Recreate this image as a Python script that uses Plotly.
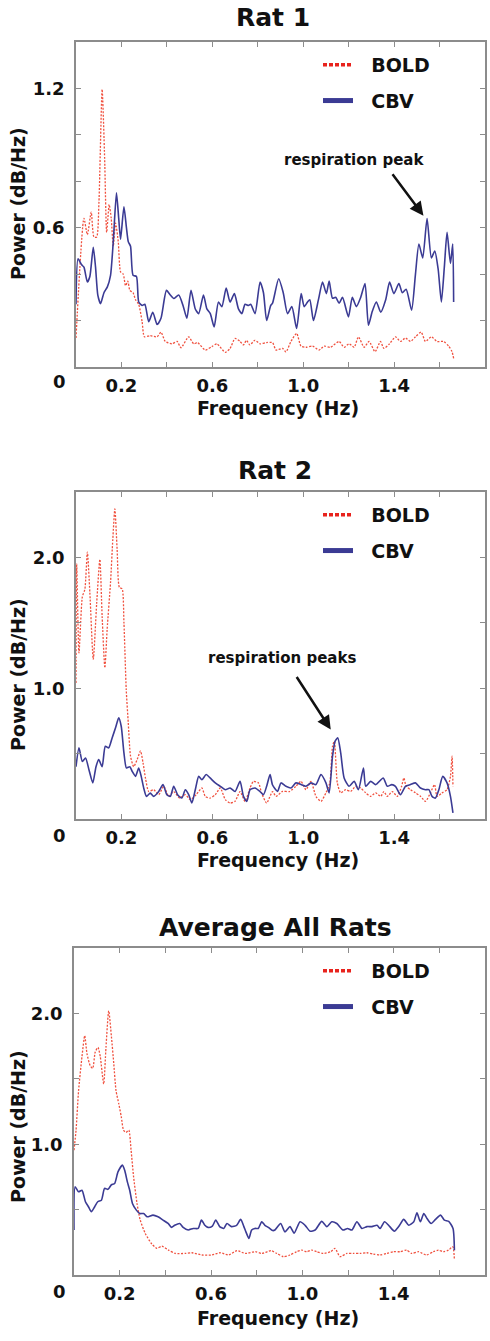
import plotly.graph_objects as go

# ---- data (frequency in Hz, power in dB/Hz) ----
rat1_bold_f = [0, .035, .05, .067, .079, .091, .101, .115, .126, .135, .146, .155, .164, .174, .186, .196, .208, .218,
               .228, .237, .251, .262, .276, .291, .301, .326, .357, .374, .393, .423, .445, .462, .496, .518, .535,
               .569, .598, .62, .657, .678, .70, .722, .737, .75, .765, .787, .81, .838, .865, .88, .909, .924, .946,
               .971, .99, 1.012, 1.041, 1.07, 1.092, 1.12, 1.158, 1.18, 1.202, 1.224, 1.243, 1.268, 1.29, 1.316, 1.34,
               1.355, 1.38, 1.406, 1.428, 1.45, 1.472, 1.494, 1.519, 1.538, 1.564, 1.589, 1.618, 1.64, 1.655, 1.662]
rat1_bold_p = [.125, .64, .57, .667, .56, .56, .71, 1.196, .90, .58, .70, .64, .52, .62, .54, .41, .40, .35, .37, .33,
               .32, .29, .27, .195, .13, .135, .13, .15, .11, .10, .11, .083, .13, .10, .105, .073, .088, .10, .063,
               .08, .123, .11, .095, .115, .095, .115, .10, .105, .105, .073, .08, .065, .11, .145, .09, .085, .09,
               .073, .09, .085, .11, .085, .10, .085, .13, .085, .11, .066, .11, .08, .10, .13, .11, .125, .11, .13,
               .15, .11, .13, .11, .11, .09, .066, .037]

rat1_cbv_f = [0, .009, .025, .035, .05, .061, .076, .086, .096, .108, .123, .138, .152, .164, .178, .188, .196, .211,
              .222, .23, .24, .251, .266, .276, .291, .303, .32, .338, .357, .374, .398, .415, .43, .452, .471, .488,
              .506, .525, .54, .561, .576, .591, .608, .627, .642, .661, .678, .697, .715, .73, .744, .759, .769, .788,
              .81, .825, .839, .857, .865, .892, .912, .931, .95, .971, .991, 1.004, 1.019, 1.029, 1.045, 1.067, 1.085,
              1.102, 1.114, 1.129, 1.143, 1.158, 1.173, 1.199, 1.216, 1.234, 1.253, 1.272, 1.287, 1.304, 1.322, 1.341,
              1.363, 1.38, 1.399, 1.421, 1.436, 1.453, 1.477, 1.494, 1.509, 1.526, 1.545, 1.564, 1.579, 1.594, 1.608,
              1.621, 1.633, 1.648, 1.658, 1.662]
rat1_cbv_p = [.27, .466, .44, .43, .366, .39, .516, .43, .31, .273, .32, .345, .395, .54, .75, .64, .55, .69, .60, .54,
              .52, .395, .39, .28, .265, .27, .195, .236, .183, .21, .33, .31, .295, .31, .265, .21, .33, .25, .23, .31,
              .25, .23, .173, .28, .26, .34, .28, .316, .25, .23, .27, .265, .27, .23, .366, .32, .20, .265, .275, .38,
              .32, .23, .26, .166, .316, .26, .28, .29, .20, .29, .366, .316, .37, .296, .30, .275, .30, .216, .30, .26,
              .30, .36, .18, .24, .28, .236, .29, .366, .316, .36, .32, .335, .245, .40, .53, .47, .64, .47, .50, .42,
              .28, .43, .58, .446, .53, .28]

rat2_bold_f = [0, .003, .013, .028, .039, .05, .061, .076, .091, .105, .115, .127, .137, .152, .162, .171, .181, .191,
               .203, .211, .221, .23, .24, .254, .269, .284, .295, .306, .32, .342, .364, .386, .408, .43, .456, .481,
               .503, .529, .554, .569, .59, .613, .635, .657, .678, .70, .722, .744, .766, .781, .803, .817, .839, .865,
               .88, .909, .939, .968, .99, 1.012, 1.034, 1.056, 1.078, 1.1, 1.117, 1.129, 1.137, 1.15, 1.165, 1.187,
               1.209, 1.231, 1.253, 1.275, 1.297, 1.319, 1.341, 1.355, 1.37, 1.392, 1.414, 1.433, 1.443, 1.453, 1.472,
               1.494, 1.516, 1.538, 1.56, 1.578, 1.589, 1.611, 1.633, 1.648, 1.655, 1.659]
rat2_bold_p = [1.04, 1.95, 1.27, 1.70, 1.756, 2.04, 1.73, 1.22, 1.65, 1.985, 1.55, 1.156, 1.45, 1.81, 2.14, 2.37, 2.06,
               1.77, 1.76, 1.50, .99, .735, .48, .40, .454, .52, .43, .31, .21, .224, .186, .25, .173, .21, .16, .186,
               .148, .186, .237, .173, .16, .186, .237, .148, .122, .135, .21, .135, .237, .288, .275, .198, .122, .21,
               .173, .211, .21, .25, .288, .224, .288, .173, .135, .20, .276, .556, .594, .276, .20, .224, .211, .25,
               .237, .20, .173, .20, .173, .21, .173, .21, .173, .25, .314, .25, .224, .20, .173, .135, .20, .263, .173,
               .20, .224, .326, .48, .25]

rat2_cbv_f = [0, .013, .028, .042, .057, .074, .088, .1, .115, .129, .144, .159, .174, .188, .199, .211, .222, .237,
              .247, .262, .276, .287, .298, .31, .327, .342, .364, .383, .4, .415, .43, .447, .466, .481, .496, .51,
              .525, .54, .554, .573, .59, .613, .635, .657, .678, .70, .722, .737, .752, .766, .788, .81, .825, .839,
              .854, .865, .887, .902, .924, .946, .968, .99, 1.012, 1.034, 1.056, 1.078, 1.1, 1.114, 1.129, 1.14,
              1.152, 1.165, 1.18, 1.202, 1.224, 1.243, 1.265, 1.275, 1.297, 1.319, 1.352, 1.37, 1.39, 1.406, 1.428,
              1.45, 1.472, 1.494, 1.516, 1.538, 1.553, 1.567, 1.582, 1.597, 1.614, 1.633, 1.648, 1.659]
rat2_cbv_p = [.40, .544, .44, .467, .377, .276, .40, .454, .40, .556, .544, .62, .697, .773, .709, .505, .39, .40, .365,
              .326, .39, .326, .237, .173, .198, .173, .21, .263, .186, .173, .25, .186, .16, .224, .186, .122, .224,
              .326, .30, .34, .314, .276, .25, .224, .237, .21, .288, .173, .135, .224, .237, .21, .186, .25, .34, .26,
              .211, .276, .25, .237, .276, .263, .25, .276, .263, .34, .276, .20, .48, .594, .62, .505, .314, .25,
              .288, .224, .39, .25, .288, .263, .314, .25, .263, .25, .186, .25, .263, .276, .237, .224, .224, .173,
              .16, .224, .326, .276, .173, .046]

avg_bold_f = [0, .009, .02, .035, .047, .057, .071, .082, .093, .105, .115, .13, .14, .152, .164, .174, .184, .196,
              .207, .217, .228, .24, .25, .261, .276, .29, .312, .341, .363, .385, .414, .444, .487, .516, .56, .604,
              .641, .677, .714, .75, .794, .823, .864, .888, .917, .946, .975, .997, 1.019, 1.041, 1.063, 1.092, 1.124,
              1.143, 1.165, 1.195, 1.224, 1.253, 1.282, 1.311, 1.34, 1.369, 1.399, 1.428, 1.457, 1.479, 1.508, 1.544,
              1.574, 1.596, 1.618, 1.64, 1.659, 1.666]
avg_bold_p = [.954, 1.107, 1.41, 1.67, 1.83, 1.69, 1.60, 1.58, 1.705, 1.74, 1.67, 1.46, 1.74, 2.02, 1.82, 1.62, 1.41,
              1.31, 1.21, 1.107, 1.09, 1.107, .954, .75, .547, .42, .318, .237, .204, .22, .19, .165, .165, .17, .153,
              .153, .17, .153, .186, .165, .178, .165, .186, .165, .14, .153, .178, .19, .178, .19, .178, .165, .178,
              .204, .14, .165, .165, .165, .17, .16, .153, .165, .178, .178, .19, .165, .178, .153, .178, .19, .178,
              .19, .216, .115]

avg_cbv_f = [0, .005, .02, .035, .05, .064, .076, .09, .104, .12, .134, .149, .164, .178, .193, .212, .222, .234, .244,
             .256, .273, .288, .305, .32, .346, .368, .39, .412, .427, .441, .463, .478, .5, .522, .544, .558, .573,
             .587, .606, .621, .638, .656, .67, .69, .712, .73, .744, .753, .766, .778, .792, .807, .822, .836, .851,
             .87, .88, .905, .924, .946, .964, .99, 1.012, 1.034, 1.056, 1.085, 1.107, 1.129, 1.151, 1.178, 1.198,
             1.217, 1.239, 1.261, 1.283, 1.305, 1.327, 1.341, 1.36, 1.378, 1.403, 1.422, 1.444, 1.466, 1.488, 1.502,
             1.517, 1.532, 1.546, 1.564, 1.583, 1.605, 1.622, 1.641, 1.66, 1.666]
avg_cbv_p = [.344, .674, .636, .648, .56, .52, .483, .52, .56, .572, .662, .655, .69, .70, .79, .84, .80, .71, .648,
             .547, .496, .47, .47, .445, .458, .445, .42, .394, .364, .38, .394, .364, .344, .356, .356, .42, .38, .364,
             .374, .42, .37, .356, .394, .37, .38, .425, .37, .33, .28, .344, .356, .356, .407, .38, .364, .34, .344,
             .394, .33, .37, .32, .407, .38, .335, .344, .41, .37, .407, .394, .344, .356, .344, .407, .356, .37, .37,
             .38, .356, .407, .38, .335, .37, .425, .38, .407, .476, .407, .47, .432, .394, .425, .458, .42, .41, .356,
             .19]

titles = ["Rat 1", "Rat 2", "Average All Rats"]
x_ticks = [0.2, 0.4, 0.6, 0.8, 1.0, 1.2, 1.4, 1.6]
x_ticktext = ["0.2", "", "0.6", "", "1.0", "", "1.4", ""]
y_ticks_rat1 = [0.2, 0.4, 0.6, 0.8, 1.0, 1.2]
y_ticktext_rat1 = ["", "", "0.6", "", "", "1.2"]
y_ticks_25 = [0.5, 1.0, 1.5, 2.0]
y_ticktext_25 = ["", "1.0", "", "2.0"]

W, H = 490, 1341
RED = "#f0513f"
BLUE = "#3b3b94"
INK = "#111111"
FONT = "DejaVu Sans"


def fx(p):
    # page pixel -> paper x
    return p / W


def fy(p):
    # page pixel -> paper y
    return 1 - p / H


def label(text, x, y, size, angle=0):
    return dict(text=text, x=fx(x), y=fy(y), xref="paper", yref="paper", xanchor="center", yanchor="middle",
                showarrow=False, textangle=angle, font=dict(family=FONT, size=size, color=INK, weight="bold"))


# pixel boxes of the three panels: left, right, top, bottom
boxes = [(76, 485, 42, 367), (76, 485, 492, 819), (74, 485, 948, 1275)]
y_ranges = [[0, 1.4], [0, 2.5], [0, 2.5]]
y_ticks = [(y_ticks_rat1, y_ticktext_rat1), (y_ticks_25, y_ticktext_25), (y_ticks_25, y_ticktext_25)]
series = [(rat1_bold_f, rat1_bold_p, rat1_cbv_f, rat1_cbv_p),
          (rat2_bold_f, rat2_bold_p, rat2_cbv_f, rat2_cbv_p),
          (avg_bold_f, avg_bold_p, avg_cbv_f, avg_cbv_p)]

fig = go.Figure()
layout = {}
annotations = []
legend_names = ["legend", "legend2", "legend3"]

for i in range(3):
    sfx = "" if i == 0 else str(i + 1)
    xa, ya = "x" + sfx, "y" + sfx
    bf, bp, cf, cp = series[i]
    fig.add_trace(go.Scatter(x=bf, y=bp, xaxis=xa, yaxis=ya, mode="lines", showlegend=False,
                             line=dict(color=RED, width=1.3, dash="2px,1.5px", shape="spline", smoothing=0.6)))
    fig.add_trace(go.Scatter(x=cf, y=cp, xaxis=xa, yaxis=ya, mode="lines", showlegend=False,
                             line=dict(color=BLUE, width=1.6, shape="spline", smoothing=0.6)))
    # legend entries (thicker sample lines like the original)
    fig.add_trace(go.Scatter(x=[None], y=[None], xaxis=xa, yaxis=ya, mode="lines", name="\u00a0\u00a0BOLD",
                             legend=legend_names[i], legendgroup="b%d" % i,
                             line=dict(color="#e8231d", width=3.5, dash="4px,2px")))
    fig.add_trace(go.Scatter(x=[None], y=[None], xaxis=xa, yaxis=ya, mode="lines", name="\u00a0\u00a0CBV",
                             legend=legend_names[i], legendgroup="c%d" % i,
                             line=dict(color=BLUE, width=5)))

    l, r, t, b = boxes[i]
    axis_common = dict(showline=True, linecolor="#8c8c8c", linewidth=1.5, mirror="ticks", ticks="inside",
                       ticklen=5, tickcolor="#8c8c8c", tickwidth=1, showgrid=False, zeroline=False,
                       tickfont=dict(family=FONT, size=18, color=INK, weight="bold"), fixedrange=True)
    layout["xaxis" + sfx] = dict(domain=[fx(l), fx(r)], anchor=ya, range=[0, 1.8], tickmode="array",
                                 tickvals=x_ticks, ticktext=x_ticktext, ticklabelstandoff=2, **axis_common)
    yt, ytt = y_ticks[i]
    layout["yaxis" + sfx] = dict(domain=[fy(b), fy(t)], anchor=xa, range=y_ranges[i], tickmode="array",
                                 tickvals=yt, ticktext=ytt, ticklabelstandoff=6, **axis_common)
    layout[legend_names[i]] = dict(x=fx(318), y=fy(t + 4), xanchor="left", yanchor="top",
                                   bgcolor="rgba(0,0,0,0)", tracegroupgap=8,
                                   font=dict(family=FONT, size=19, color=INK, weight="bold"))

title_pos = [(273, 18), (275, 471), (275, 927)]
xtitle_y = [408, 860, 1318]
ytitle_y = [204, 675, 1127]
zero_y = [382, 835, 1291]
for i in range(3):
    annotations.append(label(titles[i], title_pos[i][0], title_pos[i][1], 25))
    annotations.append(label("Frequency (Hz)", 278, xtitle_y[i], 19))
    annotations.append(label("Power (dB/Hz)", 18, ytitle_y[i], 19, angle=-90))
    annotations.append(label("0", 59.5, zero_y[i], 18))

# respiration peak callouts
annotations.append(label("respiration peak", 354, 160, 15))
annotations.append(dict(text="", x=1.529, y=0.652, xref="x", yref="y", ax=-32, ay=-43, showarrow=True,
                        arrowhead=2, arrowsize=1.1, arrowwidth=2.5, arrowcolor=INK))
annotations.append(label("respiration peaks", 282, 658, 15))
annotations.append(dict(text="", x=1.121, y=0.684, xref="x2", yref="y2", ax=-35, ay=-54, showarrow=True,
                        arrowhead=2, arrowsize=1.1, arrowwidth=2.5, arrowcolor=INK))

fig.update_layout(width=W, height=H, margin=dict(l=0, r=0, t=0, b=0), paper_bgcolor="white",
                  plot_bgcolor="white", annotations=annotations, **layout)

# drop the default 8px body margin so the figure fills the page exactly
fig.write_html("out.html", config={"displayModeBar": False},
               post_script="document.body.style.margin = '0';")
